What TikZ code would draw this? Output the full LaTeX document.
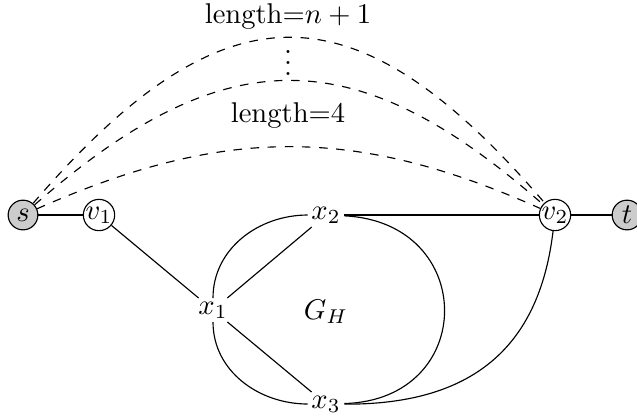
\documentclass[tikz,border=0pt]{standalone}
\begin{document}
\begin{tikzpicture}[x=0.35pt,y=-0.35pt,
  vtx/.style={circle,draw,inner sep=0pt,minimum size=10.4pt},
  term/.style={vtx,fill=gray!40},
  lbl/.style={inner sep=1.1pt}]
\useasboundingbox (0,0) rectangle (637,417);
\node[term] (s) at (23,215) {$s$};
\node[vtx] (v1) at (99,215) {$v_1$};
\node[vtx] (v2) at (555,215) {$v_2$};
\node[term] (t) at (627,215) {$t$};
\node[lbl] (x1) at (213,310) {$x_1$};
\node[lbl] (x2) at (326,215) {$x_2$};
\node[lbl] (x3) at (326,404) {$x_3$};
\node (gh) at (326,312) {$G_H$};
\node (l1) at (288,17) {length=$n+1$};
\node (l4) at (288,116) {length=4};
\node[inner sep=0pt] (dots) at (288,63) {\vbox{\baselineskip=3.9pt\lineskiplimit=-10pt\hbox{.}\hbox{.}\hbox{.}}};
\draw (s) -- (v1);
\draw (v2) -- (t);
\draw (v1) -- (x1);
\draw (x1) -- (x2);
\draw (x1) -- (x3);
\draw (x2) -- (v2);
\draw (x1) to[out=90,in=180] (x2);
\draw (x1) to[out=-90,in=180] (x3);
\draw (x2) .. controls (478,222) and (478,400) .. (x3);
\draw (x3) .. controls (480,405) and (540,340) .. (v2);
\draw[dashed] (s) .. controls (224,-18) and (355,-18) .. (v2);
\draw[dashed] (s) .. controls (224,39) and (355,39) .. (v2);
\draw[dashed] (s) .. controls (224,126) and (355,126) .. (v2);
\end{tikzpicture}
\end{document}
